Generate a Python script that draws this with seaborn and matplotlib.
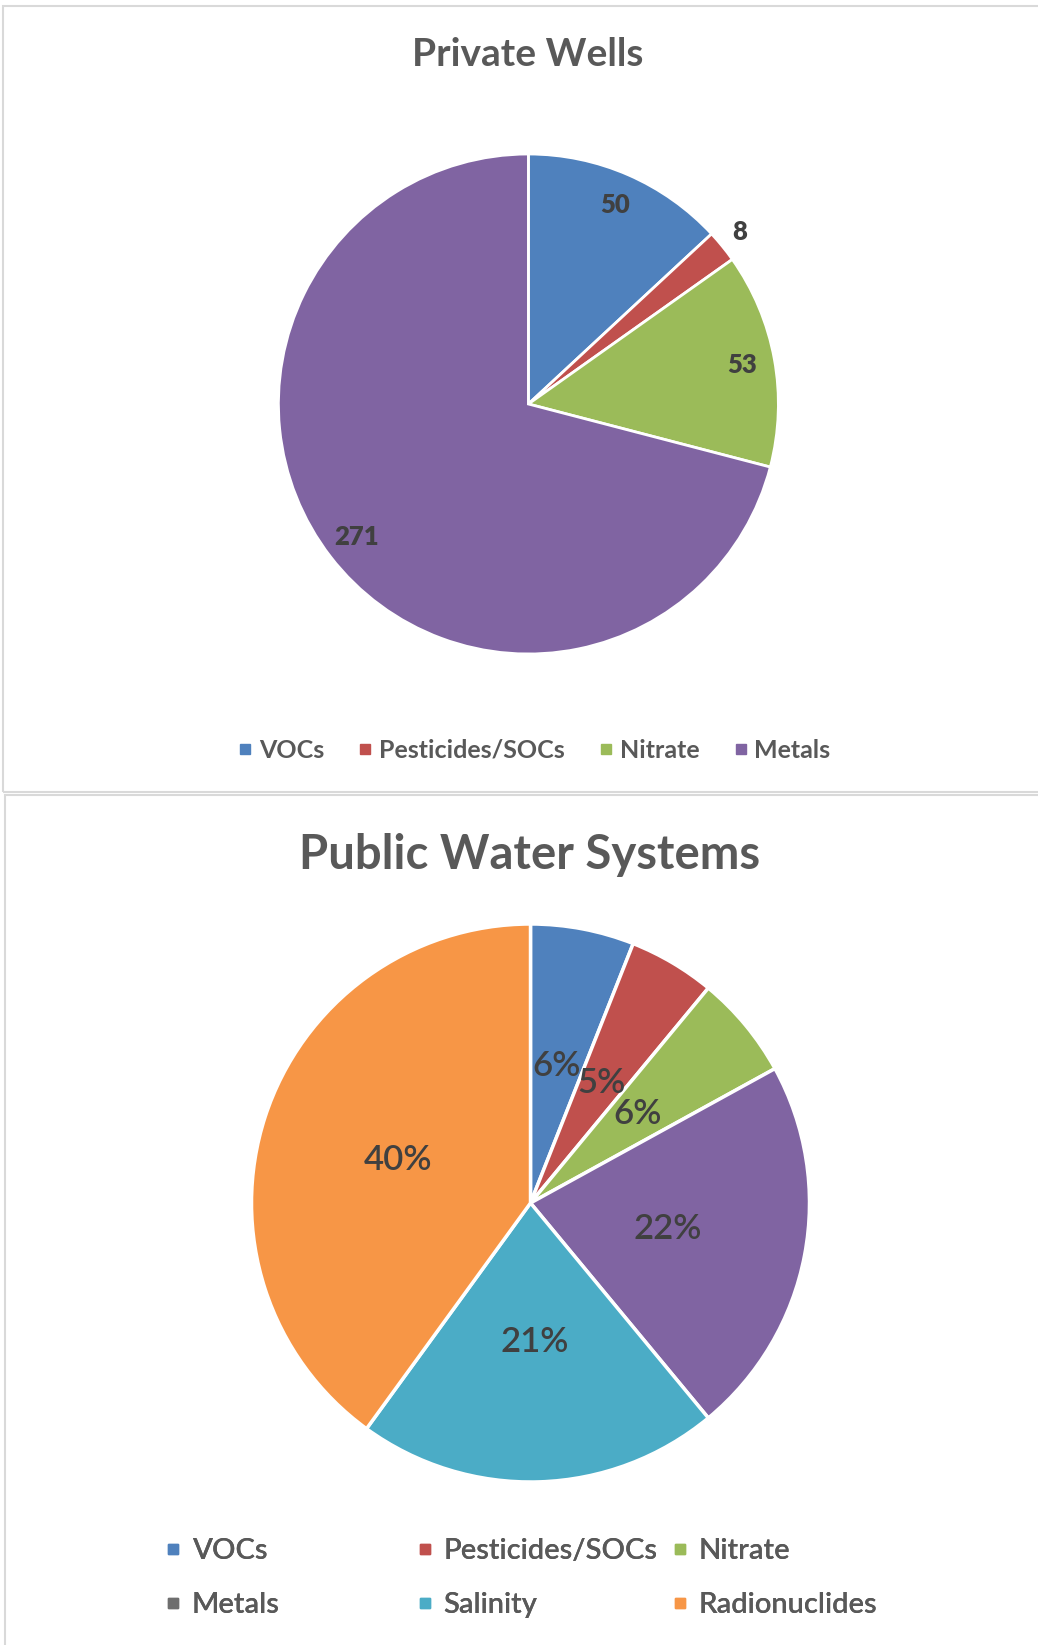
import matplotlib
matplotlib.use("Agg")
import matplotlib.pyplot as plt
from matplotlib.lines import Line2D
from matplotlib.patches import Rectangle
import numpy as np
import seaborn as sns

# ---- data ----
WELL_CATS   = ["VOCs", "Pesticides/SOCs", "Nitrate", "Metals"]
WELL_COUNTS = [50, 8, 53, 271]

PWS_CATS = ["VOCs", "Pesticides/SOCs", "Nitrate", "Metals", "Salinity", "Radionuclides"]
PWS_PCT  = [6, 5, 6, 22, 21, 40]

# ---- style ----
PALETTE = sns.color_palette(["#4F81BD", "#C0504D", "#9BBB59", "#8064A2",
                             "#4BACC6", "#F79646"])
LEGEND_COLORS = ["#4F81BD", "#C0504D", "#9BBB59", "#6E6E6E", "#4BACC6", "#F79646"]
TITLE_C = "#595959"
LABEL_C = "#404040"

sns.set_theme(style="white")
plt.rcParams["font.family"] = ["Lato", "DejaVu Sans"]

W, H = 1038, 1645
fig = plt.figure(figsize=(W / 100, H / 100), dpi=100)
fig.patch.set_facecolor("white")


def px_axes(cx, cy, r):
    # square axes of radius r px around (cx, cy) measured from top-left
    return fig.add_axes([(cx - r) / W, 1 - (cy + r) / H, 2 * r / W, 2 * r / H])


def px(x, y):
    return x / W, 1 - y / H


# panel frames
fig.patches.append(Rectangle(px(3, 792), 1100 / W, 786 / H, transform=fig.transFigure,
                             fill=False, edgecolor="#d9d9d9", lw=1.5))
fig.patches.append(Rectangle(px(5, 1660), 1100 / W, 865 / H, transform=fig.transFigure,
                             fill=False, edgecolor="#d9d9d9", lw=1.5))

# ---- Private wells ----
ax1 = px_axes(528.4, 404, 250)
wedges, _ = ax1.pie(WELL_COUNTS, colors=PALETTE[:4], startangle=90, counterclock=False,
                    wedgeprops=dict(edgecolor="white", linewidth=2))
ax1.set_xlim(-1, 1); ax1.set_ylim(-1, 1)
total = sum(WELL_COUNTS)
for w, v in zip(wedges, WELL_COUNTS):
    ang = np.deg2rad((w.theta1 + w.theta2) / 2)
    rr = 1.09 if v / total < 0.05 else 0.87
    ax1.text(rr * np.cos(ang), rr * np.sin(ang), str(v), ha="center", va="center",
             fontsize=18.5, fontweight="heavy", color=LABEL_C)

fig.text(*px(528, 55), "Private Wells", ha="center", va="center",
         fontsize=28, fontweight="bold", color=TITLE_C)

h1 = [Line2D([], [], marker="s", ls="none", markersize=6.5, color=c) for c in PALETTE[:4]]
fig.legend(h1, WELL_CATS, loc="center", bbox_to_anchor=px(534, 750), ncol=4,
           frameon=False, handlelength=0.6, handletextpad=0.25, columnspacing=1.35,
           prop=dict(size=18, weight="bold"), labelcolor=TITLE_C)

# ---- Public water systems ----
ax2 = px_axes(530.5, 1203, 279)
wedges2, _, autot = ax2.pie(PWS_PCT, colors=PALETTE, startangle=90, counterclock=False,
                            autopct="%d%%", pctdistance=0.5,
                            wedgeprops=dict(edgecolor="white", linewidth=2.5),
                            textprops=dict(fontsize=25, color=LABEL_C, fontweight="semibold"))
ax2.set_xlim(-1, 1); ax2.set_ylim(-1, 1)

fig.text(*px(530, 855), "Public Water Systems", ha="center", va="center",
         fontsize=34, fontweight="bold", color=TITLE_C)

# legend: three columns laid out row by row
col_x = [164, 416, 671]
for j, x in enumerate(col_x):
    idx = [j, j + 3]
    hh = [Line2D([], [], marker="s", ls="none", markersize=7, color=LEGEND_COLORS[i])
          for i in idx]
    leg = fig.legend(hh, [PWS_CATS[i] for i in idx], loc="center left",
                     bbox_to_anchor=px(x, 1578), frameon=False, borderpad=0,
                     borderaxespad=0, handlelength=0.6, handletextpad=0.35,
                     labelspacing=0.98, prop=dict(size=21, weight="semibold"),
                     labelcolor=TITLE_C)
    fig.add_artist(leg)

fig.savefig("out.png", dpi=100, facecolor="white")
